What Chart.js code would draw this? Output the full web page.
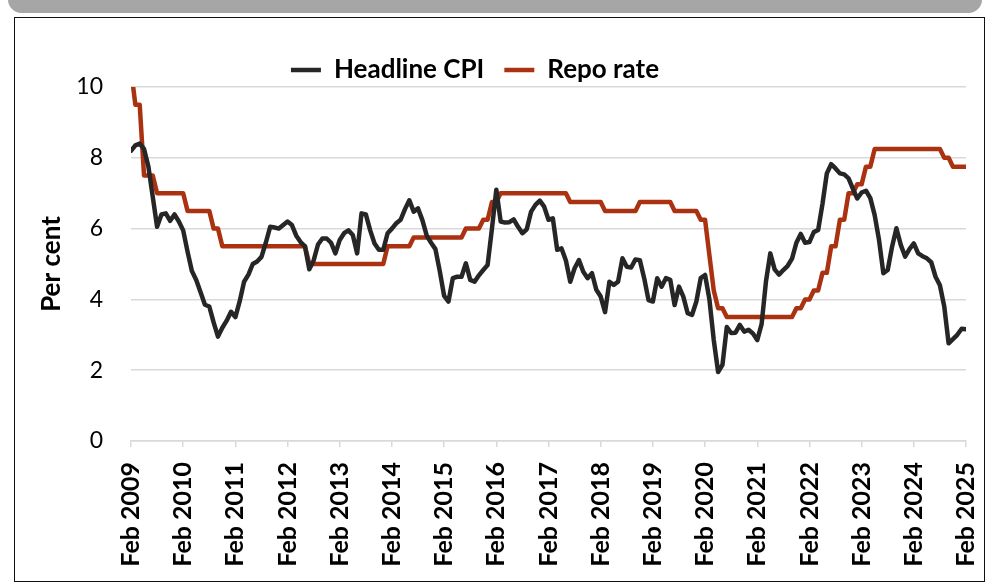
<!DOCTYPE html>
<html><head><meta charset="utf-8">
<script src="https://cdn.jsdelivr.net/npm/chart.js@4.4.1/dist/chart.umd.min.js"></script>
<style>
html,body{margin:0;padding:0;background:#fff;overflow:hidden;width:998px;height:585px;position:relative}
#bar{position:absolute;left:8px;top:-14px;width:974px;height:27px;border-radius:14px;background:#a6a6a6}
#frame{position:absolute;left:14px;top:17px;width:971px;height:565px;box-sizing:border-box;border:1.5px solid #111}
#wrap{position:absolute;left:-16px;top:0;width:1014px;height:585px}
</style></head><body>
<div id="bar"></div><div id="frame"></div>
<div id="wrap"><canvas id="c" width="1014" height="585"></canvas></div>
<script>
// Monthly data, Feb 2009 .. Feb 2025 (193 months)
const tickLabels = ['Feb 2009','Feb 2010','Feb 2011','Feb 2012','Feb 2013','Feb 2014','Feb 2015','Feb 2016','Feb 2017','Feb 2018','Feb 2019','Feb 2020','Feb 2021','Feb 2022','Feb 2023','Feb 2024','Feb 2025'];
const seriesNames = ['Headline CPI','Repo rate'];

const cpi = [
  8.2, 8.35, 8.4, 8.25, 7.75, 6.9, 6.05, 6.4, 6.43, 6.22, 6.4, 6.2,
  5.95, 5.35, 4.8, 4.55, 4.2, 3.85, 3.8, 3.35, 2.95, 3.2, 3.4, 3.65,
  3.5, 3.95, 4.5, 4.7, 5.0, 5.07, 5.2, 5.6, 6.05, 6.03, 6.0, 6.1,
  6.2, 6.1, 5.8, 5.62, 5.5, 4.85, 5.1, 5.55, 5.72, 5.72, 5.6, 5.3,
  5.68, 5.87, 5.95, 5.82, 5.3, 6.43, 6.4, 5.95, 5.58, 5.4, 5.4, 5.87,
  6.0, 6.15, 6.25, 6.55, 6.8, 6.48, 6.57, 6.24, 5.8, 5.6, 5.42, 4.8,
  4.1, 3.94, 4.6, 4.64, 4.64, 5.02, 4.55, 4.5, 4.68, 4.83, 4.97, 6.0,
  7.1, 6.2, 6.17, 6.18, 6.26, 6.05, 5.87, 5.98, 6.48, 6.67, 6.79, 6.62,
  6.25, 6.29, 5.4, 5.44, 5.1, 4.5, 4.88, 5.11, 4.78, 4.6, 4.74, 4.27,
  4.08, 3.64, 4.5, 4.41, 4.5, 5.16, 4.92, 4.9, 5.13, 5.11, 4.6, 3.98,
  3.94, 4.6, 4.36, 4.6, 4.55, 3.84, 4.36, 4.08, 3.61, 3.56, 3.94, 4.6,
  4.69, 4.0, 2.85, 1.95, 2.15, 3.22, 3.05, 3.06, 3.28, 3.09, 3.14, 3.04,
  2.85, 3.3, 4.5, 5.3, 4.85, 4.7, 4.83, 4.95, 5.15, 5.6, 5.85, 5.6,
  5.62, 5.9, 5.96, 6.7, 7.56, 7.82, 7.7, 7.56, 7.53, 7.42, 7.12, 6.85,
  7.02, 7.07, 6.86, 6.38, 5.68, 4.74, 4.83, 5.49, 6.01, 5.54, 5.21, 5.42,
  5.58, 5.3, 5.22, 5.16, 5.05, 4.64, 4.4, 3.8, 2.76, 2.88, 3.0, 3.17,
  3.16
];

const repo = [
  10.5, 9.5, 9.5, 7.5, 7.5, 7.5, 7.0, 7.0, 7.0, 7.0, 7.0, 7.0,
  7.0, 6.5, 6.5, 6.5, 6.5, 6.5, 6.5, 6.0, 6.0, 5.5, 5.5, 5.5,
  5.5, 5.5, 5.5, 5.5, 5.5, 5.5, 5.5, 5.5, 5.5, 5.5, 5.5, 5.5,
  5.5, 5.5, 5.5, 5.5, 5.5, 5.0, 5.0, 5.0, 5.0, 5.0, 5.0, 5.0,
  5.0, 5.0, 5.0, 5.0, 5.0, 5.0, 5.0, 5.0, 5.0, 5.0, 5.0, 5.5,
  5.5, 5.5, 5.5, 5.5, 5.5, 5.75, 5.75, 5.75, 5.75, 5.75, 5.75, 5.75,
  5.75, 5.75, 5.75, 5.75, 5.75, 6.0, 6.0, 6.0, 6.0, 6.25, 6.25, 6.75,
  6.75, 7.0, 7.0, 7.0, 7.0, 7.0, 7.0, 7.0, 7.0, 7.0, 7.0, 7.0,
  7.0, 7.0, 7.0, 7.0, 7.0, 6.75, 6.75, 6.75, 6.75, 6.75, 6.75, 6.75,
  6.75, 6.5, 6.5, 6.5, 6.5, 6.5, 6.5, 6.5, 6.5, 6.75, 6.75, 6.75,
  6.75, 6.75, 6.75, 6.75, 6.75, 6.5, 6.5, 6.5, 6.5, 6.5, 6.5, 6.25,
  6.25, 5.25, 4.25, 3.75, 3.75, 3.5, 3.5, 3.5, 3.5, 3.5, 3.5, 3.5,
  3.5, 3.5, 3.5, 3.5, 3.5, 3.5, 3.5, 3.5, 3.5, 3.75, 3.75, 4.0,
  4.0, 4.25, 4.25, 4.75, 4.75, 5.5, 5.5, 6.25, 6.25, 7.0, 7.0, 7.25,
  7.25, 7.75, 7.75, 8.25, 8.25, 8.25, 8.25, 8.25, 8.25, 8.25, 8.25, 8.25,
  8.25, 8.25, 8.25, 8.25, 8.25, 8.25, 8.25, 8.0, 8.0, 7.75, 7.75, 7.75,
  7.75
];

const colors = ['#262626', '#ab3210'];

Chart.defaults.font.family = 'Lato';

const legendShift = {
  id: 'legendShift',
  afterLayout(chart) {
    if (chart.legend) { chart.legend.top += 6; chart.legend.bottom += 6; }
  }
};

new Chart(document.getElementById('c'), {
  type: 'line',
  data: {
    datasets: [
      { label: seriesNames[0], data: cpi.map((v, i) => ({ x: i, y: v })),
        borderColor: colors[0], backgroundColor: colors[0], borderWidth: 4.5,
        pointRadius: 0, tension: 0, borderJoinStyle: 'round', borderCapStyle: 'round' },
      { label: seriesNames[1], data: repo.map((v, i) => ({ x: i, y: v })),
        borderColor: colors[1], backgroundColor: colors[1], borderWidth: 4.5,
        pointRadius: 0, tension: 0, borderJoinStyle: 'round', borderCapStyle: 'round' }
    ]
  },
  options: {
    responsive: false,
    animation: false,
    devicePixelRatio: 1,
    layout: { padding: { left: 0, right: 32, top: 31, bottom: 14 } },
    plugins: {
      tooltip: { enabled: false },
      legend: {
        position: 'top',
        labels: {
          usePointStyle: true, pointStyle: 'line', pointStyleWidth: 30,
          padding: 20, color: '#000',
          font: { family: 'Lato', weight: 'bold', size: 26 }
        }
      }
    },
    scales: {
      x: {
        type: 'linear', min: 0, max: 192,
        ticks: {
          stepSize: 12, autoSkip: false, maxRotation: 90, minRotation: 90, padding: 15,
          color: '#000', font: { family: 'Lato', weight: 'bold', size: 25 },
          callback: (v) => tickLabels[v / 12]
        },
        grid: { drawOnChartArea: false, drawTicks: true, tickLength: 6, color: '#d9d9d9', lineWidth: 1.5 },
        border: { display: true, color: '#d9d9d9', width: 1.5 },
        afterFit(s) { s.height = 130; s.paddingLeft = 0; s.paddingRight = 0; }
      },
      y: {
        min: 0, max: 10,
        ticks: { stepSize: 2, padding: 28, color: '#000', font: { family: 'Lato', size: 23 } },
        grid: { color: '#d9d9d9', lineWidth: 1.5, drawTicks: false },
        border: { display: false },
        title: { display: true, text: 'Per cent', color: '#000',
          font: { family: 'Lato', weight: 'bold', size: 26 }, padding: { top: 52, bottom: 0 } },
        afterFit(s) { s.width = 147; s.paddingTop = 0; s.paddingBottom = 0; }
      }
    }
  },
  plugins: [legendShift]
});
</script></body></html>
